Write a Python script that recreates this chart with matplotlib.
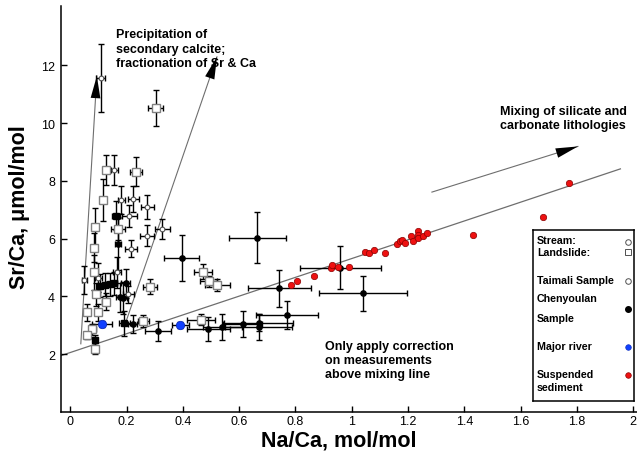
import matplotlib
matplotlib.use("Agg")
import matplotlib.pyplot as plt

plt.rcParams["font.family"] = ["Liberation Sans", "DejaVu Sans"]

# ---------------- data: Na/Ca (mol/mol) and Sr/Ca (umol/mol) ----------------
# Taimali stream samples (open circles)
tai_stream_na = [0.107, 0.156, 0.181, 0.223, 0.274, 0.209, 0.326, 0.271, 0.215,
                 0.050, 0.099, 0.166, 0.206]
tai_stream_sr = [11.56, 8.38, 7.33, 7.37, 7.10, 6.78, 6.34, 6.10, 5.65,
                 4.58, 4.64, 4.83, 4.07]
tai_stream_na_err = [0.015, 0.012, 0.012, 0.020, 0.024, 0.027, 0.027, 0.025, 0.020,
                     0.010, 0.012, 0.015, 0.020]
tai_stream_sr_err = [1.17, 0.52, 0.49, 0.46, 0.42, 0.37, 0.34, 0.36, 0.30,
                     0.48, 0.50, 0.55, 0.30]

# Taimali landslide samples (open squares)
tai_slide_na = [0.303, 0.127, 0.234, 0.116, 0.087, 0.169, 0.085, 0.085, 0.472,
                0.492, 0.522, 0.284, 0.091, 0.126, 0.060, 0.097, 0.259, 0.463,
                0.078, 0.058, 0.087]
tai_slide_sr = [10.52, 8.38, 8.32, 7.33, 6.40, 6.35, 5.69, 4.83, 4.86,
                4.52, 4.40, 4.34, 4.07, 3.82, 3.45, 3.45, 3.14, 3.20,
                2.86, 2.65, 2.19]
tai_slide_na_err = [0.027, 0.010, 0.022, 0.010, 0.008, 0.024, 0.008, 0.008, 0.033,
                    0.030, 0.044, 0.025, 0.010, 0.012, 0.008, 0.010, 0.020, 0.050,
                    0.012, 0.006, 0.006]
tai_slide_sr_err = [0.64, 0.53, 0.50, 0.72, 0.66, 0.40, 0.50, 0.60, 0.26,
                    0.20, 0.20, 0.25, 0.40, 0.30, 0.30, 0.30, 0.20, 0.20,
                    0.20, 0.12, 0.20]

# Chenyoulan stream samples (filled black circles)
chen_stream_na = [0.665, 0.169, 0.395, 0.196, 0.176, 0.188, 0.221, 0.312, 0.490,
                  0.540, 0.612, 0.669, 0.669, 0.771, 0.743, 0.960, 1.040]
chen_stream_sr = [6.03, 5.80, 5.34, 4.45, 3.97, 3.95, 3.05, 2.81, 2.86,
                  2.93, 3.06, 3.09, 2.93, 3.36, 4.28, 5.00, 4.11]
chen_stream_na_err = [0.100, 0.010, 0.061, 0.015, 0.015, 0.012, 0.015, 0.046, 0.077,
                      0.070, 0.069, 0.124, 0.120, 0.110, 0.113, 0.144, 0.157]
chen_stream_sr_err = [0.89, 0.90, 0.80, 0.50, 0.50, 0.55, 0.30, 0.34, 0.42,
                      0.45, 0.45, 0.30, 0.45, 0.49, 0.63, 0.76, 0.60]

# Chenyoulan landslide samples (filled black squares)
chen_slide_na = [0.162, 0.105, 0.123, 0.140, 0.155, 0.191, 0.087]
chen_slide_sr = [6.80, 4.37, 4.40, 4.42, 4.45, 3.07, 2.48]
chen_slide_na_err = [0.015, 0.010, 0.010, 0.012, 0.012, 0.020, 0.008]
chen_slide_sr_err = [0.50, 0.40, 0.40, 0.40, 0.40, 0.43, 0.20]

# Major rivers (blue)
river_na = [0.113, 0.390]
river_sr = [3.05, 3.02]
river_na_err = [0.036, 0.030]
river_sr_err = [0.10, 0.10]

# Suspended sediment (red)
susp_na = [0.785, 0.806, 0.867, 0.926, 0.931, 0.950, 0.989, 1.048, 1.062, 1.080,
           1.119, 1.160, 1.172, 1.178, 1.188, 1.209, 1.219, 1.234, 1.235, 1.236,
           1.252, 1.267, 1.431, 1.681, 1.772]
susp_sr = [4.41, 4.52, 4.72, 5.00, 5.09, 5.02, 5.02, 5.55, 5.50, 5.61,
           5.49, 5.80, 5.92, 5.94, 5.84, 6.08, 5.92, 6.25, 6.11, 6.01,
           6.08, 6.19, 6.11, 6.76, 7.93]

# silicate-carbonate mixing line  Sr/Ca = a + b * Na/Ca
mix_intercept = 2.06
mix_slope = 3.25
mix_x = [-0.035, 1.955]

# guide arrows: (tail, head)
arrows = [((0.037, 2.36), (0.094, 11.63)),
          ((0.197, 3.11), (0.521, 12.29)),
          ((1.285, 7.61), (1.804, 9.19))]

xtick_vals = [0, 0.2, 0.4, 0.6, 0.8, 1.0, 1.2, 1.4, 1.6, 1.8, 2.0]
xtick_labels = ["0", "0.2", "0.4", "0.6", "0.8", "1", "1.2", "1.4", "1.6", "1.8", "2"]
ytick_vals = [2, 4, 6, 8, 10, 12]
ytick_labels = ["2", "4", "6", "8", "10", "12"]

# ---------------- figure ----------------
W, H = 637, 452
fig = plt.figure(figsize=(W / 100, H / 100), dpi=100)
ax_bottom_px, ax_top_px = 413.0, 7.0
ax = fig.add_axes([60.7 / W, (H - ax_bottom_px) / H, (W - 60.7) / W,
                   (ax_bottom_px - ax_top_px) / H])
ax.set_xlim(-0.0345, 2.014)
ax.set_ylim(0, 14.05)

for s in ("top", "right"):
    ax.spines[s].set_visible(False)
for s in ("left", "bottom"):
    ax.spines[s].set_linewidth(1.1)

ax.set_xticks(xtick_vals)
ax.set_xticklabels(xtick_labels)
ax.set_yticks(ytick_vals)
ax.set_yticklabels(ytick_labels)
ax.tick_params(direction="in", length=4, width=1, labelsize=9, colors="black")
ax.tick_params(axis="x", pad=2.5)
ax.tick_params(axis="y", pad=4)

# mixing line
mx = mix_x
my = [mix_intercept + mix_slope * v for v in mx]
ax.plot(mx, my, color="#6e6e6e", lw=0.9, zorder=1)

# arrows: thin grey shaft, black head
for (tx, ty), (hx, hy) in arrows:
    ax.plot([tx, hx], [ty, hy], color="#6e6e6e", lw=0.8, zorder=1)
    ax.annotate("", xy=(hx, hy), xytext=(tx, ty),
                arrowprops=dict(arrowstyle="-|>,head_length=1.6,head_width=0.35",
                                color="black", lw=0, shrinkA=0, shrinkB=0,
                                mutation_scale=10),
                zorder=3)

eb = dict(fmt="none", ecolor="black", elinewidth=1.0, capsize=2.2, capthick=1.0, zorder=2)
ax.errorbar(tai_stream_na, tai_stream_sr, xerr=tai_stream_na_err, yerr=tai_stream_sr_err, **eb)
ax.errorbar(tai_slide_na, tai_slide_sr, xerr=tai_slide_na_err, yerr=tai_slide_sr_err, **eb)
ax.errorbar(chen_stream_na, chen_stream_sr, xerr=chen_stream_na_err, yerr=chen_stream_sr_err, **eb)
ax.errorbar(chen_slide_na, chen_slide_sr, xerr=chen_slide_na_err, yerr=chen_slide_sr_err, **eb)
ax.errorbar(river_na, river_sr, xerr=river_na_err, yerr=river_sr_err, **eb)

ax.plot(tai_slide_na, tai_slide_sr, ls="none", marker="s", ms=5.4, mfc="white",
        mec="#808080", mew=1.0, zorder=4)
ax.plot(tai_stream_na, tai_stream_sr, ls="none", marker="o", ms=3.4, mfc="white",
        mec="#505050", mew=0.8, zorder=4)
ax.plot(chen_slide_na, chen_slide_sr, ls="none", marker="s", ms=5.0, mfc="black",
        mec="black", zorder=4)
ax.plot(chen_stream_na, chen_stream_sr, ls="none", marker="o", ms=3.8, mfc="black",
        mec="black", zorder=4)
ax.plot(river_na, river_sr, ls="none", marker="o", ms=6.0, mfc="#1040ff",
        mec="#1030c0", mew=0.6, zorder=5)
ax.plot(susp_na, susp_sr, ls="none", marker="o", ms=4.6, mfc="#ee1111",
        mec="#8a0000", mew=0.5, zorder=5)

# annotations
tk = dict(fontsize=9, fontweight="bold", ha="left", va="top", linespacing=1.25)
ax.text(0.162, 13.28, "Precipitation of\nsecondary calcite;\nfractionation of Sr & Ca", **tk)
ax.text(1.527, 10.64, "Mixing of silicate and\ncarbonate lithologies", **tk)
ax.text(0.905, 2.50, "Only apply correction\non measurements\nabove mixing line", **tk)

fig.text(339 / W, (H - 441) / H, "Na/Ca, mol/mol", fontsize=15.5, fontweight="bold",
         ha="center", va="center")
fig.text(20 / W, (H - 207.5) / H, "Sr/Ca, \u03bcmol/mol", fontsize=15.5, fontweight="bold",
         ha="center", va="center", rotation=90)

# key box
kx0, ky0, kw, kh = 533, 231, 101, 171
kax = fig.add_axes([kx0 / W, (H - ky0 - kh) / H, kw / W, kh / H])
kax.set_xlim(kx0, kx0 + kw)
kax.set_ylim(ky0 + kh, ky0)
kax.set_xticks([])
kax.set_yticks([])
for s in kax.spines.values():
    s.set_linewidth(1.1)
kax.patch.set_facecolor("white")

kt = dict(fontsize=7.7, fontweight="bold", ha="left", va="center")
kax.text(537, 241.5, "Stream:", **kt)
kax.text(537, 253.5, "Landslide:", **kt)
kax.text(537, 281, "Taimali Sample", **kt)
kax.text(537, 299.5, "Chenyoulan", **kt)
kax.text(537, 319, "Sample", **kt)
kax.text(537, 347.5, "Major river", **kt)
kax.text(537, 375.5, "Suspended", **kt)
kax.text(537, 388.5, "sediment", **kt)

kax.plot([628], [242.5], marker="o", ms=4.0, mfc="white", mec="#505050", mew=0.7, ls="none")
kax.plot([628], [252.5], marker="s", ms=4.0, mfc="white", mec="#505050", mew=0.7, ls="none")
kax.plot([628], [282], marker="o", ms=4.0, mfc="white", mec="#505050", mew=0.7, ls="none")
kax.plot([628], [310], marker="o", ms=4.0, mfc="black", mec="black", ls="none")
kax.plot([628], [348], marker="o", ms=4.0, mfc="#1040ff", mec="#1030c0", mew=0.5, ls="none")
kax.plot([628], [375.5], marker="o", ms=4.0, mfc="#ee1111", mec="#8a0000", mew=0.5, ls="none")

fig.savefig("out.png", dpi=100)
